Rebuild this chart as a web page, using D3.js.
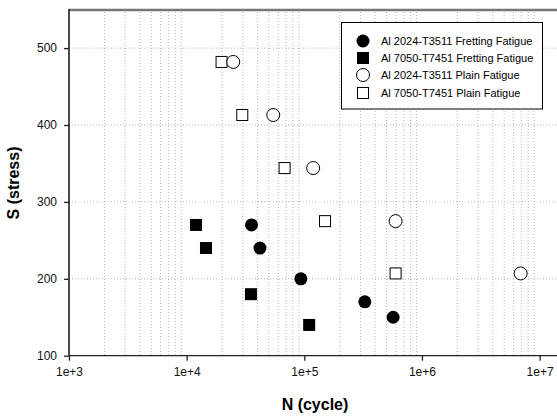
<!DOCTYPE html>
<html><head><meta charset="utf-8">
<script src="https://cdn.jsdelivr.net/npm/d3@7"></script>
<style>body{margin:0;background:#fff}svg{display:block;font-family:"Liberation Sans",Arial,sans-serif}</style>
</head><body><svg id="c" width="557" height="416"></svg>
<script>
const seriesNames = ["Al 2024-T3511 Fretting Fatigue","Al 7050-T7451 Fretting Fatigue","Al 2024-T3511 Plain Fatigue","Al 7050-T7451 Plain Fatigue"];
const fret2024N = [35600, 42000, 93500, 327000, 569000];
const fret2024S = [270, 240, 200, 170, 150];
const fret7050N = [12000, 14600, 35200, 110000];
const fret7050S = [270, 240, 180, 140];
const plain2024N = [24900, 54500, 119000, 597000, 6900000];
const plain2024S = [482, 413, 344, 275, 207];
const plain7050N = [19800, 29700, 68000, 150000, 597000];
const plain7050S = [482, 413, 344, 275, 207];
const xTicks = [1e3, 1e4, 1e5, 1e6, 1e7];
const xTickLabels = ["1e+3","1e+4","1e+5","1e+6","1e+7"];
const yTicks = [100, 200, 300, 400, 500];

const svg = d3.select("#c");
const L = 69, T = 10, B = 355.7;
const x = d3.scaleLog().domain([1e3, 1e7]).range([L, L + 4*117.65]);
const y = d3.scaleLinear().domain([100, 550]).range([B, B - 4.5*76.9]);

// minor grid (vertical)
const minor = [];
for (let d = 1e3; d < 1e7; d *= 10) for (let k = 2; k <= 9; k++) minor.push(d*k);
svg.append("g").selectAll("line").data(minor).join("line")
  .attr("x1", d=>x(d)).attr("x2", d=>x(d)).attr("y1", T+2).attr("y2", B)
  .attr("stroke","#b8b8b8").attr("stroke-width",1).attr("stroke-dasharray","1,2");
svg.append("g").selectAll("line").data(yTicks.slice(1)).join("line")
  .attr("x1", L).attr("x2", 557).attr("y1", d=>y(d)).attr("y2", d=>y(d))
  .attr("stroke","#b8b8b8").attr("stroke-width",1).attr("stroke-dasharray","1,2");

// top border
svg.append("line").attr("x1",L).attr("x2",557).attr("y1",T).attr("y2",T)
  .attr("stroke","#777").attr("stroke-width",2.5);

// axes
const xAxis = d3.axisBottom(x).tickValues(xTicks).tickFormat((d,i)=>xTickLabels[i]).tickSize(5).tickPadding(7);
const gx = svg.append("g").attr("transform",`translate(0,${B})`).call(xAxis);
gx.select(".domain").attr("d",`M${L},0H557`).attr("stroke","#222").attr("stroke-width",1.3);
gx.selectAll(".tick line").attr("stroke","#222").attr("stroke-width",1.3);
gx.selectAll("text").attr("font-size",12).attr("fill","#111").attr("font-family","Liberation Sans, Arial");

const yAxis = d3.axisLeft(y).tickValues(yTicks).tickSize(5).tickPadding(7);
const gy = svg.append("g").attr("transform",`translate(${L},0)`).call(yAxis);
gy.select(".domain").attr("d",`M0,${T-1}V${B}`).attr("stroke","#111").attr("stroke-width",1.5);
gy.selectAll(".tick line").attr("stroke","#222").attr("stroke-width",1.3);
gy.selectAll("text").attr("font-size",12).attr("fill","#111").attr("font-family","Liberation Sans, Arial");

// titles
svg.append("text").attr("x",315).attr("y",410).attr("text-anchor","middle")
  .attr("font-size",16).attr("font-weight","bold").text("N (cycle)");
svg.append("text").attr("transform","translate(18.5,183) rotate(-90)").attr("text-anchor","middle")
  .attr("font-size",16).attr("font-weight","bold").text("S (stress)");

// markers
const sym = {
  fc: (g)=>g.append("circle").attr("r",6.5).attr("fill","#000"),
  fs: (g)=>g.append("rect").attr("x",-6).attr("y",-6).attr("width",12).attr("height",12).attr("fill","#000"),
  oc: (g)=>g.append("circle").attr("r",6.5).attr("fill","#fff").attr("stroke","#000").attr("stroke-width",1),
  os: (g)=>g.append("rect").attr("x",-5.5).attr("y",-5.5).attr("width",11).attr("height",11).attr("fill","#fff").attr("stroke","#000").attr("stroke-width",1)
};
const series = [
  {N: plain7050N, S: plain7050S, s: "os"},
  {N: plain2024N, S: plain2024S, s: "oc"},
  {N: fret7050N, S: fret7050S, s: "fs"},
  {N: fret2024N, S: fret2024S, s: "fc"}
];
series.forEach(se=>{
  se.N.forEach((n,i)=>{
    const g = svg.append("g").attr("transform",`translate(${x(n)},${y(se.S[i])})`);
    sym[se.s](g);
  });
});

// legend
const lg = svg.append("g");
lg.append("rect").attr("x",341.5).attr("y",22.5).attr("width",201).attr("height",86.5)
  .attr("fill","#fff").attr("stroke","#000").attr("stroke-width",1);
const legSyms = ["fc","fs","oc","os"];
const legY = [41, 58, 75, 93];
seriesNames.forEach((nm,i)=>{
  const g = lg.append("g").attr("transform",`translate(363,${legY[i]})`);
  sym[legSyms[i]](g);
  lg.append("text").attr("x",381).attr("y",legY[i]+4).attr("font-size",11).attr("fill","#000").text(nm);
});
</script></body></html>
